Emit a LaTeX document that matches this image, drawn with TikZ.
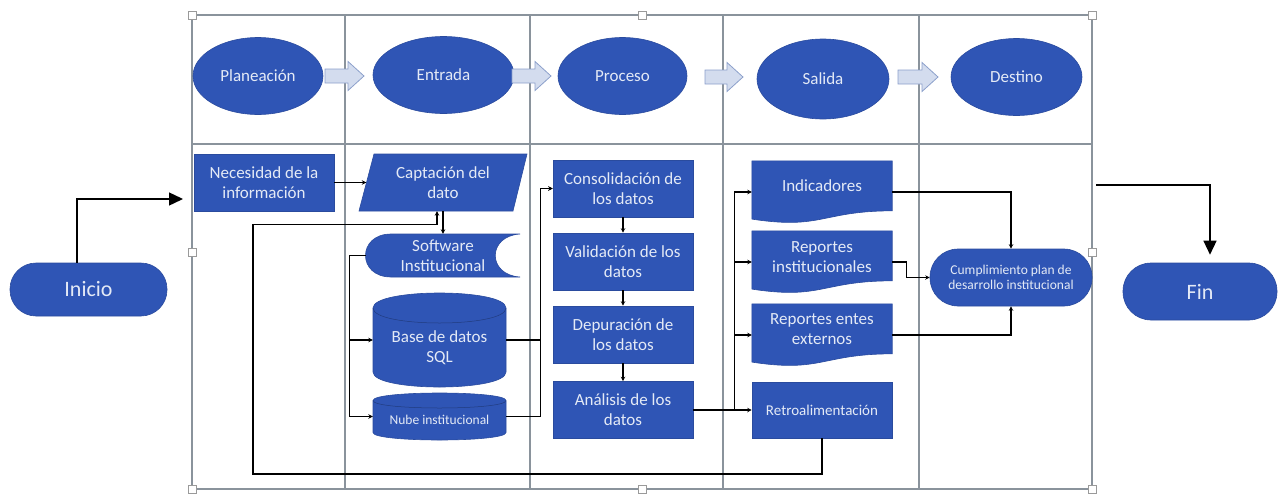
\documentclass[tikz,border=0pt]{standalone}
\usepackage{fontspec}
\setmainfont{Carlito}
\usetikzlibrary{shapes.geometric,arrows.meta,calc}
\definecolor{boxblue}{HTML}{2F55B5}
\definecolor{boxedge}{HTML}{2A4B9E}
\definecolor{boxtext}{HTML}{E4EAF6}
\definecolor{gridline}{HTML}{8A939C}
\definecolor{arrowfill}{HTML}{D3DCEE}
\definecolor{arrowedge}{HTML}{8CA0CB}
\definecolor{handle}{HTML}{9A9A9A}
\newcommand\fsz[2]{\fontsize{#1}{#2}\selectfont}
\newcommand\blockarr[3]{%
  \draw[blockarrow] (#1,{#3-7}) -- ({#2-16},{#3-7}) -- ({#2-16},{#3-14.5}) -- (#2,#3)
    -- ({#2-16},{#3+14.5}) -- ({#2-16},{#3+7}) -- (#1,{#3+7}) -- cycle;}
\newcommand\docpath[1]{%
  \filldraw[fill=boxblue, draw=boxedge, line width=0.6pt]
    (#1.north west) -- (#1.north east) -- ($(#1.north east)!0.802!(#1.south east)$)
    .. controls ($(#1.north)!0.802!(#1.south)$) and ($(#1.north)!1.1075!(#1.south)$)
    .. ($(#1.north west)!0.934!(#1.south west)$) -- cycle;}
\begin{document}
\begin{tikzpicture}[x=1pt,y=-1pt,
  box/.style={draw=boxedge, line width=0.6pt, fill=boxblue, text=boxtext, align=center,
    font=\fsz{17}{20}, inner sep=0pt},
  shapenode/.style={inner sep=0pt, draw=none},
  lbl/.style={text=boxtext, align=center, font=\fsz{17}{20}, inner sep=0pt},
  oval/.style={ellipse, fill=boxblue, draw=boxedge, line width=0.6pt, text=boxtext,
    font=\fsz{17}{20}, inner sep=0pt, minimum height=77pt},
  conn/.style={draw=black, line width=1.1pt, -{Stealth[length=4.5pt,width=4.5pt]}},
  bigconn/.style={draw=black, line width=1.4pt, -{Triangle[length=14pt,width=13pt]}},
  tableline/.style={draw=gridline, line width=1.1pt},
  handlebox/.style={draw=handle, fill=white, line width=0.6pt, minimum size=8pt, inner sep=0pt},
  blockarrow/.style={fill=arrowfill, draw=arrowedge, line width=0.8pt},
  cyl/.style={fill=boxblue, draw=boxedge, line width=0.6pt},
  cylrim/.style={draw=boxblue!70!black, line width=0.5pt}
]
\useasboundingbox (0,0) rectangle (1278,493);

% table
\draw[tableline] (192,15) rectangle (1092,489);
\draw[tableline] (192,144) -- (1092,144);
\foreach \x in {345,530,723,919} \draw[tableline] (\x,15) -- (\x,489);

% top row
\node[oval, minimum width=130pt] (pl) at (258,76) {Planeación};
\node[oval, minimum width=141pt] (en) at (443.5,75) {Entrada};
\node[oval, minimum width=129pt] (pr) at (622.5,76) {Proceso};
\node[oval, minimum width=132pt, minimum height=80pt] (sa) at (823,79) {Salida};
\node[oval, minimum width=131pt] (de) at (1016.5,77) {Destino};
\blockarr{325}{364}{76}
\blockarr{512}{551}{76}
\blockarr{705}{743}{77}
\blockarr{898}{938}{77}

% start / end
\node[box, rounded corners=26pt, minimum width=157pt, minimum height=53pt, font=\fsz{22}{26}] (ini) at (88.5,289.5) {Inicio};
\node[box, rounded corners=28pt, minimum width=154pt, minimum height=57pt, font=\fsz{22}{26}] (fin) at (1200,291.5) {Fin};

% planeacion column
\node[box, minimum width=140pt, minimum height=57pt] (nec) at (264,182.5) {Necesidad de la\\información};

% entrada column
\filldraw[fill=boxblue, draw=boxedge, line width=0.6pt] (374,154) -- (527,154) -- (513,211) -- (359,211) -- cycle;
\node[lbl, minimum width=168pt, minimum height=57pt] (capt) at (443,182.5) {Captación del\\dato};
\filldraw[fill=boxblue, draw=boxedge, line width=0.6pt] (391,234) -- (520,234)
  .. controls (487,236) and (487,275) .. (520,277) -- (391,277)
  .. controls (357,277) and (357,234) .. (391,234) -- cycle;
\node[lbl, minimum width=154pt, minimum height=43pt] (sw) at (443,255.5) {Software\\Institucional};
\filldraw[cyl] (373,308) -- (373,372) .. controls (373,392) and (506,392) .. (506,372)
  -- (506,308) .. controls (506,288) and (373,288) .. (373,308) -- cycle;
\draw[cylrim] (373,308) .. controls (373,328) and (506,328) .. (506,308);
\node[shapenode, minimum width=133pt, minimum height=94pt] (base) at (439.5,340) {};
\node[lbl] (baselbl) at (439.5,348) {Base de datos\\SQL};
\filldraw[cyl] (373,400.5) -- (373,432.5) .. controls (373,442.5) and (506,442.5) .. (506,432.5)
  -- (506,400.5) .. controls (506,390.5) and (373,390.5) .. (373,400.5) -- cycle;
\draw[cylrim] (373,400.5) .. controls (373,410.5) and (506,410.5) .. (506,400.5);
\node[shapenode, minimum width=133pt, minimum height=47pt] (nube) at (439.5,416.5) {};
\node[lbl, font=\fsz{13.5}{15}] (nubelbl) at (439.5,420) {Nube institucional};

% proceso column
\node[box, minimum width=140pt, minimum height=57pt] (cons) at (623,188.5) {Consolidación de\\los datos};
\node[box, minimum width=140pt, minimum height=57pt] (val) at (623,261.5) {Validación de los\\datos};
\node[box, minimum width=140pt, minimum height=57pt] (dep) at (623,334.5) {Depuración de\\los datos};
\node[box, minimum width=140pt, minimum height=57pt] (ana) at (623,410) {Análisis de los\\datos};

% salida column
\node[shapenode, minimum width=140pt, minimum height=62pt] (ind) at (822,192) {};
\node[shapenode, minimum width=140pt, minimum height=62pt] (repi) at (822,262) {};
\node[shapenode, minimum width=140pt, minimum height=62pt] (repe) at (822,335) {};
\docpath{ind}
\docpath{repi}
\docpath{repe}
\node[lbl] (indlbl) at (822,186) {Indicadores};
\node[lbl] (repilbl) at (822,257) {Reportes\\institucionales};
\node[lbl] (repelbl) at (822,329) {Reportes entes\\externos};
\node[box, minimum width=140pt, minimum height=56pt, font=\fsz{15}{18}] (retro) at (822,410) {Retroalimentación};

% destino column
\node[box, rounded corners=28pt, minimum width=162pt, minimum height=57pt, font=\fsz{13.5}{15.5}] (cump) at (1011,277.5) {Cumplimiento plan de\\desarrollo institucional};

% connectors
\coordinate (inend) at (183,199);
\coordinate (finstart) at (1096,185);
\draw[bigconn] ($(ini.north)+(-11.5,0)$) |- (inend);
\draw[bigconn] (finstart) -| ($(fin.north)+(10,-8)$);
\draw[conn] (nec.east) -- ($(capt.west)+(7.5,0)$);
\draw[conn] (capt.south) -- (sw.north);
\draw[conn] (sw.west) -- ++(-16,0) |- (base.west);
\draw[conn] (sw.west) -- ++(-16,0) |- (nube.west);
\draw[conn] (base.east) -- ++(34,0) |- (cons.west);
\draw[conn] (nube.east) -- ++(34,0) |- (cons.west);
\draw[conn] (cons.south) -- (val.north);
\draw[conn] (val.south) -- (dep.north);
\draw[conn] (dep.south) -- (ana.north);
\draw[conn] (ana.east) -- ++(41,0) |- (ind.west);
\draw[conn] (ana.east) -- ++(41,0) |- (repi.west);
\draw[conn] (ana.east) -- ++(41,0) |- (repe.west);
\draw[conn] (ana.east) -- (retro.west);
\draw[conn] (ind.east) -| (cump.north);
\draw[conn] (repi.east) -- ++(14,0) |- (cump.west);
\draw[conn] (repe.east) -| (cump.south);
\draw[conn] (retro.south) |- (253,474) |- ($(capt.south)+(-6,13)$) -- ($(capt.south)+(-6,0)$);

% selection handles
\node[handlebox] (h1) at (192,15) {};
\node[handlebox] (h2) at (642,15) {};
\node[handlebox] (h3) at (1092,15) {};
\node[handlebox] (h4) at (192,252) {};
\node[handlebox] (h5) at (1092,252) {};
\node[handlebox] (h6) at (192,489) {};
\node[handlebox] (h7) at (642,489) {};
\node[handlebox] (h8) at (1092,489) {};
\end{tikzpicture}
\end{document}
